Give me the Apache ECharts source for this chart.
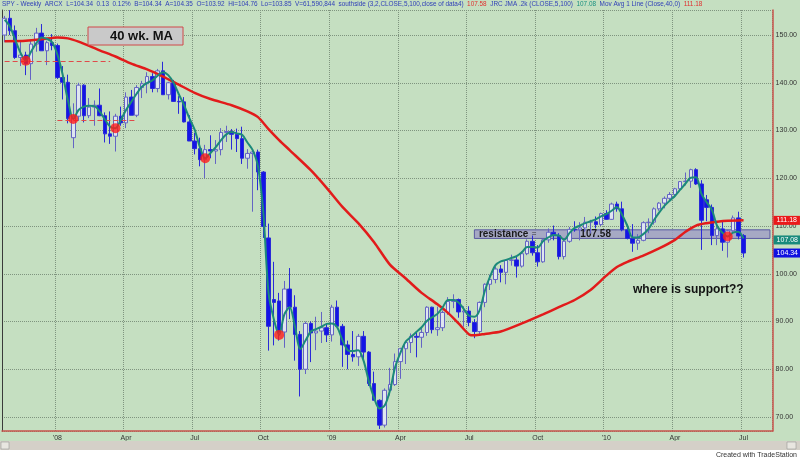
<!DOCTYPE html>
<html><head><meta charset="utf-8">
<script src="https://cdn.jsdelivr.net/npm/echarts@6/dist/echarts.min.js"></script>
<style>html,body{margin:0;padding:0;background:#fff}#c{width:800px;height:460px}</style>
</head><body><div id="c"></div>
<script>
// ---- categories (weekly bars, Friday dates) ----
const firstWeek = Date.UTC(2007, 9, 26);
const weekSlots = 146; // 141 bars + empty slots at the right
const dates = [];
for (let i = 0; i < weekSlots; i++) dates.push(new Date(firstWeek + i * 7 * 864e5).toISOString().slice(0, 10));

// ---- x tick labels ----
const tickWeeks = ['2008-01-04','2008-04-04','2008-07-04','2008-10-03','2009-01-02','2009-04-03','2009-07-03','2009-10-02','2010-01-01','2010-04-02','2010-07-02'];
const tickLabels = ["'08",'Apr','Jul','Oct',"'09",'Apr','Jul','Oct',"'10",'Apr','Jul'];

// ---- weekly OHLC ----
const open = [150.0,153.5,150.9,145.3,145.8,144.0,148.1,150.4,146.7,148.4,
147.8,141.1,140.1,128.5,133.0,139.5,133.1,134.9,135.3,133.1,
129.3,128.8,133.0,131.6,137.0,133.2,139.0,139.8,141.3,138.8,
142.5,137.5,140.0,136.1,136.0,131.8,127.8,126.2,123.9,126.0,
125.7,126.0,129.6,129.8,129.2,128.3,124.2,125.2,125.5,121.3,
107.5,94.6,94.3,87.8,96.8,93.0,87.3,80.0,89.6,87.6,
88.0,88.7,87.2,93.0,89.0,85.1,83.1,82.6,86.9,83.6,
77.0,73.5,68.3,75.6,76.8,81.6,84.3,85.6,86.9,86.7,
87.7,93.0,88.3,88.7,91.9,94.2,94.6,92.0,92.2,89.8,
87.9,94.0,97.8,98.8,101.0,100.3,102.8,102.9,101.6,104.2,
106.8,104.4,102.5,107.1,108.7,108.0,103.6,106.8,109.3,109.2,
109.6,110.8,110.9,110.3,112.6,111.4,114.6,113.6,109.2,107.4,
106.4,107.0,110.7,110.8,113.6,114.8,115.8,116.6,117.8,119.3,
119.4,121.8,118.8,115.5,113.9,108.0,109.4,106.6,109.0,111.7,
108.0];
const high = [154.0,155.2,152.0,148.9,146.5,149.0,151.5,152.3,148.8,150.2,
148.2,143.5,141.7,135.7,140.0,139.7,136.8,136.3,138.8,133.8,
134.0,133.5,135.0,138.0,138.5,139.5,140.4,142.2,142.0,142.9,
144.4,140.2,140.6,137.2,137.0,133.2,129.5,128.5,127.0,129.0,
128.0,130.5,131.0,130.3,130.4,130.8,126.1,126.0,126.0,121.5,
110.5,102.5,96.0,98.5,101.2,95.5,88.0,90.0,90.0,91.0,
92.0,89.5,93.5,94.4,89.5,86.0,88.0,87.4,88.0,83.8,
79.5,73.7,76.0,80.3,83.3,84.5,85.8,87.5,87.7,88.9,
93.2,93.1,93.1,92.3,95.1,95.7,94.8,93.2,93.2,90.5,
94.2,98.0,99.8,101.5,101.8,103.0,104.0,103.5,104.7,107.2,
108.0,106.0,107.4,109.5,110.1,108.5,107.2,109.8,111.0,110.8,
111.9,111.3,112.0,112.8,113.3,114.9,115.1,115.1,110.3,110.4,
108.3,111.0,111.6,113.9,115.0,116.2,117.1,118.0,119.4,121.2,
122.0,122.1,119.6,116.5,114.5,110.4,111.0,109.2,112.2,113.0,
108.3];
const low = [148.5,150.0,145.0,143.5,141.6,140.6,146.5,146.7,143.7,146.8,
140.8,136.5,131.5,126.3,132.0,131.7,132.6,131.0,133.0,127.5,
127.2,125.6,131.0,130.5,133.2,132.8,136.8,137.8,138.0,138.0,
137.5,136.5,136.0,133.5,131.7,127.8,125.0,122.5,120.0,124.2,
123.0,124.8,127.6,126.0,125.5,123.0,122.0,113.0,117.5,107.5,
83.9,85.0,86.0,84.5,90.5,81.8,74.3,79.0,81.5,84.0,
85.5,85.7,85.8,88.8,80.5,80.0,81.6,80.7,82.0,76.5,
73.5,67.5,67.8,74.5,76.5,78.0,81.1,83.4,82.5,84.5,
87.0,87.5,87.0,88.0,91.4,92.8,90.8,88.9,89.0,86.5,
87.0,93.0,96.6,98.0,98.2,97.8,101.7,99.2,101.3,103.9,
103.8,101.5,102.3,106.5,107.0,103.0,103.0,106.5,108.8,107.0,
108.8,108.4,109.5,110.0,111.3,111.3,113.0,108.9,107.2,104.6,
105.0,106.8,108.5,110.3,113.2,113.7,115.2,116.0,117.4,118.5,
118.0,118.6,105.0,111.0,106.0,106.0,104.8,103.4,108.8,107.2,
103.4];
const close = [153.5,150.9,145.3,145.8,144.0,148.1,150.4,146.7,148.4,147.8,
141.1,140.1,132.5,133.0,139.5,133.1,134.9,135.3,133.1,129.3,
128.8,133.0,131.6,137.0,133.2,139.0,139.8,141.3,138.8,142.5,
137.5,140.0,136.1,136.0,131.8,127.8,126.2,123.9,126.0,125.7,
126.0,129.6,129.8,129.2,128.3,124.2,125.2,125.5,121.3,109.9,
89.0,94.0,87.8,96.8,93.0,87.3,80.0,89.6,87.6,88.0,
88.7,87.2,93.0,89.0,85.1,83.1,82.6,86.9,83.6,77.0,
73.5,68.3,75.6,76.8,81.6,84.3,85.6,86.9,86.7,87.7,
93.0,88.3,88.7,91.9,94.2,94.6,92.0,92.2,89.8,87.9,
94.0,97.8,98.8,101.0,100.3,102.8,102.9,101.6,104.2,106.8,
104.4,102.5,107.1,108.7,108.0,103.6,106.8,109.3,109.2,109.6,
110.8,110.9,110.3,112.6,111.4,114.6,113.6,109.2,107.4,106.4,
107.0,110.7,110.8,113.6,114.8,115.8,116.6,117.8,119.3,119.4,
121.8,118.8,111.2,113.9,108.0,109.4,106.6,109.0,111.7,107.9,
104.34];

// ---- JRC JMA (teal) ----
const jma = [153.2,151.8,149.0,146.3,144.6,146.5,148.3,149.5,149.2,148.5,
145.9,141.7,136.3,132.4,134.3,135.0,135.2,135.1,134.0,132.3,
130.8,130.5,132.2,134.3,136.0,137.7,139.2,140.0,140.5,141.5,
142.2,141.6,140.0,137.6,135.3,132.6,130.2,126.5,124.2,125.3,
126.5,128.0,129.2,129.7,129.4,129.1,127.5,125.9,122.5,113.0,
96.0,90.5,87.2,91.5,93.0,89.0,84.2,86.0,87.9,88.4,
88.9,89.5,89.6,88.8,86.1,84.0,83.8,84.0,81.8,77.5,
74.0,71.8,72.4,75.5,80.5,83.5,85.8,86.8,87.8,88.8,
90.1,90.9,91.6,93.0,94.5,94.5,94.0,92.6,91.2,91.0,
92.4,96.5,99.5,101.8,102.6,102.9,103.3,103.7,104.5,105.6,
105.6,105.5,106.8,107.6,108.1,108.0,107.1,108.5,109.6,110.1,
110.6,111.0,111.4,112.0,112.5,113.2,114.0,112.3,110.0,107.6,
107.6,108.3,109.4,111.2,112.8,114.2,115.3,116.3,117.6,118.9,
120.1,120.2,116.8,115.0,113.4,110.0,108.6,107.8,108.6,108.8,
107.4];

// ---- 40 wk moving average (read at these bars) ----
const maIdx = [0,4,7,10,12,14,18,21,24,27,30,33,36,39,43,46,48,50,52,54,58,61,64,67,70,73,76,79,82,84,86,88,89,91,94,98,102,105,108,111,114,116,118,121,124,127,129,131,133,135,137,140];
const maVal = [148.7,148.8,149.1,149.5,149.3,148.6,146.8,145.5,144.0,142.8,141.3,139.6,137.9,136.6,135.3,134.0,132.8,130.3,128.0,125.9,121.7,118.0,114.0,110.6,106.6,101.9,99.0,96.0,93.6,91.8,89.6,87.3,87.1,87.4,87.9,89.6,91.5,93.0,94.5,96.6,99.6,101.4,102.5,103.8,105.3,107.1,108.8,110.1,110.6,110.9,111.1,111.2];

// ---- southside dots & support lines ----
const dotIdx = [4,13,21,38,52,137];
const dotVal = [144.6,132.4,130.5,124.2,87.2,107.8];
const supportLevel = [144.6, 132.2];
const supportFrom = [0, 10];
const supportTo = [20, 25];

// ---- resistance zone & last values ----
const resistanceLow = 107.4, resistanceHigh = 109.2, resistanceFrom = 89, resistanceTo = 145;
const resistanceValue = '107.58';
const lastMA = 111.18, lastJMA = 107.08, lastClose = 104.34;

const yMin = 67.07, yMax = 155.24;
const BG = '#c5dfc1';
const FONT = 'Arial, "Liberation Sans", sans-serif';

const candles = open.map((o, i) => [o, close[i], low[i], high[i]]);

const lastBox = (v, color) => ({
  yAxis: v,
  lineStyle: {color: 'rgba(0,0,0,0)', width: 1, opacity: 1},
  label: {show: true, opacity: 1, formatter: v.toFixed(2), backgroundColor: color, color: '#fff',
    position: 'end', distance: 1, fontSize: 7, padding: [1, 3, 1, 3], fontFamily: FONT}
});

const chart = echarts.init(document.getElementById('c'), null, {renderer: 'canvas'});
chart.setOption({
  animation: false,
  backgroundColor: BG,
  grid: {left: 2, right: 25, top: 10, bottom: 29, show: true, backgroundColor: BG, borderWidth: 0},
  xAxis: {
    type: 'category', data: dates, boundaryGap: true,
    axisLine: {show: true, lineStyle: {color: '#c8544c', width: 1.5}},
    axisTick: {show: false},
    axisLabel: {
      interval: (i, v) => tickWeeks.includes(v),
      formatter: v => { const k = tickWeeks.indexOf(v); return k >= 0 ? tickLabels[k] : ''; },
      fontSize: 7, color: '#333', margin: 4, fontFamily: FONT
    },
    splitLine: {show: true, interval: (i, v) => tickWeeks.includes(v), lineStyle: {type: 'dotted', color: '#7f947f', width: 1}}
  },
  yAxis: [{
    type: 'value', position: 'right', min: yMin, max: yMax, splitNumber: 8, scale: true,
    axisLine: {show: true, lineStyle: {color: '#c8544c', width: 1.5}},
    axisTick: {show: false},
    axisLabel: {fontSize: 7, color: '#333', margin: 3, fontFamily: FONT, showMinLabel: false, showMaxLabel: false,
      formatter: v => v.toFixed(2)},
    splitLine: {show: true, lineStyle: {type: 'dotted', color: '#7f947f', width: 1}}
  }, {
    type: 'value', position: 'left', min: yMin, max: yMax,
    axisLine: {show: true, lineStyle: {color: '#3a3a3a', width: 1}},
    axisTick: {show: false}, axisLabel: {show: false}, splitLine: {show: false}
  }],
  series: [
    {
      type: 'line', name: 'zone', data: [], z: 1, silent: true,
      markArea: {
        silent: true,
        itemStyle: {color: 'rgba(160,160,196,0.85)', borderColor: '#5a5aa0', borderWidth: 1},
        label: {
          show: true, position: 'insideLeft', distance: 5,
          formatter: '{a|resistance} {e|=}{s|}{a|' + resistanceValue + '}',
          rich: {
            a: {fontSize: 10, fontWeight: 'bold', color: '#1a1a1a', fontFamily: FONT},
            e: {fontSize: 8, color: '#333', fontFamily: FONT},
            s: {width: 44}
          }
        },
        data: [[{xAxis: dates[resistanceFrom], yAxis: resistanceLow}, {xAxis: dates[resistanceTo], yAxis: resistanceHigh}]]
      }
    },
    {
      type: 'candlestick', name: 'SPY', data: candles, z: 3,
      barWidth: 4,
      itemStyle: {color: '#dfe6f0', color0: '#1414e6', borderColor: '#6464c4', borderColor0: '#2a2ad8', borderWidth: 1}
    },
    {
      type: 'line', name: 'MA40', data: maIdx.map((k, j) => [dates[k], maVal[j]]),
      smooth: 0.25, symbol: 'none', z: 4,
      lineStyle: {color: '#e21b1b', width: 2.5}
    },
    {
      type: 'line', name: 'JMA', data: jma, smooth: 0.3, symbol: 'none', z: 5, clip: false,
      lineStyle: {color: '#1c8a7a', width: 2},
      markLine: {
        silent: true, symbol: ['none', 'none'], animation: false,
        data: [lastBox(lastMA, '#ea1a1a'), lastBox(lastJMA, '#188a7c'), lastBox(lastClose, '#1010e0')]
      }
    },
    {
      type: 'scatter', name: 'southside', z: 6,
      data: dotIdx.map((k, j) => [dates[k], dotVal[j]]),
      symbolSize: 10, itemStyle: {color: '#ff1a1a'},
      markLine: {
        silent: true, symbol: 'none', label: {show: false},
        lineStyle: {color: '#e04a4a', type: [5, 3], width: 1},
        data: supportLevel.map((v, j) => [{coord: [dates[supportFrom[j]], v]}, {coord: [dates[supportTo[j]], v]}])
      }
    }
  ],
  graphic: [
    {type: 'text', left: 2, top: 1, silent: true, style: {
      text: '{b|SPY - Weekly  ARCX  L=104.34  0.13  0.12%  B=104.34  A=104.35  O=103.92  Hi=104.76  Lo=103.85  V=61,590,844  southside (3,2,CLOSE,5,100,close of data4)  }{r|107.58}{b|  JRC JMA .2k (CLOSE,5,100)  }{t|107.08}{b|  Mov Avg 1 Line (Close,40,0)  }{r|111.18}',
      rich: {
        b: {fontSize: 6.4, fill: '#3040b8', fontFamily: FONT},
        r: {fontSize: 6.4, fill: '#e03030', fontFamily: FONT},
        t: {fontSize: 6.4, fill: '#1a9080', fontFamily: FONT}
      }
    }},
    {type: 'rect', shape: {x: 88, y: 27, width: 95, height: 18}, style: {fill: '#c9c9c9', stroke: '#d04848', lineWidth: 1}, z: 100},
    {type: 'text', x: 110, y: 36, z: 101, style: {text: '40 wk. MA', font: 'bold 13px ' + FONT, fill: '#111', textVerticalAlign: 'middle'}},
    {type: 'text', x: 633, y: 290, z: 101, style: {text: 'where is support??', font: 'bold 12px ' + FONT, fill: '#111', textVerticalAlign: 'middle'}},
    {type: 'rect', shape: {x: 0, y: 441, width: 800, height: 9}, style: {fill: '#d4d0c8'}, z: 100},
    {type: 'rect', shape: {x: 1, y: 442, width: 8, height: 7}, style: {fill: '#e8e6e0', stroke: '#888', lineWidth: 0.5}, z: 101},
    {type: 'rect', shape: {x: 787, y: 442, width: 9, height: 7}, style: {fill: '#e8e6e0', stroke: '#888', lineWidth: 0.5}, z: 101},
    {type: 'rect', shape: {x: 0, y: 450, width: 800, height: 10}, style: {fill: '#ffffff'}, z: 100},
    {type: 'text', x: 797, y: 455, z: 101, style: {text: 'Created with TradeStation', font: '7px ' + FONT, fill: '#333', textAlign: 'right', textVerticalAlign: 'middle'}}
  ]
});
</script></body></html>
